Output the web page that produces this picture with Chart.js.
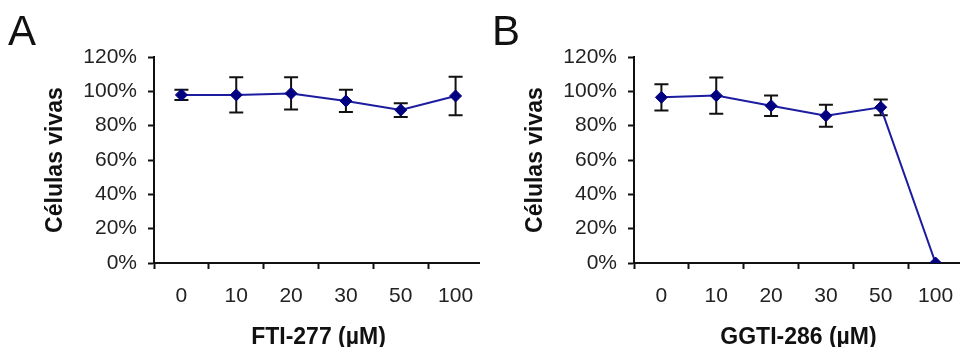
<!DOCTYPE html>
<html>
<head>
<meta charset="utf-8">
<script src="https://cdn.jsdelivr.net/npm/chart.js@4/dist/chart.umd.min.js"></script>
<style>
  html, body { margin: 0; padding: 0; background: #fff; }
  body { width: 960px; height: 347px; overflow: hidden; position: relative; font-family: "Liberation Sans", Arial, sans-serif; }
  .panel { position: absolute; top: 0; width: 480px; height: 347px; overflow: hidden; }
  .panel canvas { position: absolute; left: 0; top: 0; }
  .letter { position: absolute; font-size: 42px; line-height: 42px; color: #111; z-index: 2; }
</style>
</head>
<body>
<div class="letter" style="left:8px; top:10px;">A</div>
<div class="letter" style="left:492px; top:10px;">B</div>
<div class="panel" style="left:0;"><canvas id="chartA" width="490" height="347"></canvas></div>
<div class="panel" style="left:480px;"><canvas id="chartB" width="490" height="347"></canvas></div>
<script>
// ---- data ----
const doses = ['0', '10', '20', '30', '50', '100'];
const ftiViability = [97.9, 97.9, 98.8, 94.4, 89.1, 97.3];
const ftiError = [3.0, 10.3, 9.4, 6.5, 4.0, 11.2];
const ggtiViability = [96.5, 97.5, 91.6, 85.8, 90.7, 0];
const ggtiError = [7.6, 10.6, 6.0, 6.4, 4.6, 0];
const yAxisMax = 120;
const yAxisStep = 20;
const yTitle = 'Células vivas';
const xTitleA = 'FTI-277 (µM)';
const xTitleB = 'GGTI-286 (µM)';

const FONT = '"Liberation Sans", Arial, sans-serif';

const errorBarPlugin = {
  id: 'errorBars',
  beforeDatasetsDraw(chart, args, opts) {
    const errs = opts.errors || [];
    const ys = chart.scales.y;
    const meta = chart.getDatasetMeta(0);
    const vals = chart.data.datasets[0].data;
    const ctx = chart.ctx;
    ctx.save();
    ctx.strokeStyle = '#111';
    ctx.lineWidth = 2;
    meta.data.forEach((pt, i) => {
      const e = errs[i];
      if (!e) return;
      const x = pt.x;
      const t = ys.getPixelForValue(vals[i] + e);
      const b = ys.getPixelForValue(vals[i] - e);
      ctx.beginPath();
      ctx.moveTo(x, t); ctx.lineTo(x, b);
      ctx.moveTo(x - 7, t); ctx.lineTo(x + 7, t);
      ctx.moveTo(x - 7, b); ctx.lineTo(x + 7, b);
      ctx.stroke();
    });
    ctx.restore();
  }
};

function makeChart(id, values, errors, xTitle) {
  return new Chart(document.getElementById(id), {
    type: 'line',
    data: {
      labels: doses,
      datasets: [{
        data: values,
        borderColor: '#1c1ca0',
        borderWidth: 2,
        backgroundColor: '#000080',
        pointBackgroundColor: '#000080',
        pointBorderColor: '#000080',
        pointStyle: 'rectRot',
        pointRadius: 6,
        pointBorderWidth: 1,
        tension: 0,
        fill: false
      }]
    },
    plugins: [errorBarPlugin],
    options: {
      responsive: false,
      animation: false,
      events: [],
      layout: { padding: { left: 0, right: 3, top: 57, bottom: 0 } },
      plugins: {
        legend: { display: false },
        tooltip: { enabled: false },
        errorBars: { errors: errors }
      },
      scales: {
        x: {
          type: 'category',
          offset: true,
          afterFit(s) { s.height = 84; },
          grid: {
            offset: true,
            drawOnChartArea: false,
            drawTicks: true,
            tickLength: 6,
            tickWidth: 2,
            tickColor: '#111'
          },
          border: { display: true, color: '#111', width: 2 },
          ticks: {
            color: '#222',
            padding: 15,
            font: { family: FONT, size: 21 }
          },
          title: {
            display: true,
            text: xTitle,
            color: '#111',
            font: { family: FONT, size: 23, weight: 'bold', lineHeight: 0.8 },
            padding: { top: 0, bottom: 0 }
          }
        },
        y: {
          min: 0,
          max: yAxisMax,
          afterFit(s) { s.width = 154; },
          grid: {
            drawOnChartArea: false,
            drawTicks: true,
            tickLength: 6,
            tickWidth: 2,
            tickColor: '#111'
          },
          border: { display: true, color: '#111', width: 2 },
          ticks: {
            stepSize: yAxisStep,
            color: '#222',
            padding: 11,
            font: { family: FONT, size: 21 },
            callback: (v) => v + '%'
          },
          title: {
            display: true,
            text: yTitle,
            color: '#111',
            font: { family: FONT, size: 23, weight: 'bold', lineHeight: 1.2 },
            padding: { top: 42, bottom: 0 }
          }
        }
      }
    }
  });
}

makeChart('chartA', ftiViability, ftiError, xTitleA);
makeChart('chartB', ggtiViability, ggtiError, xTitleB);
</script>
</body>
</html>
